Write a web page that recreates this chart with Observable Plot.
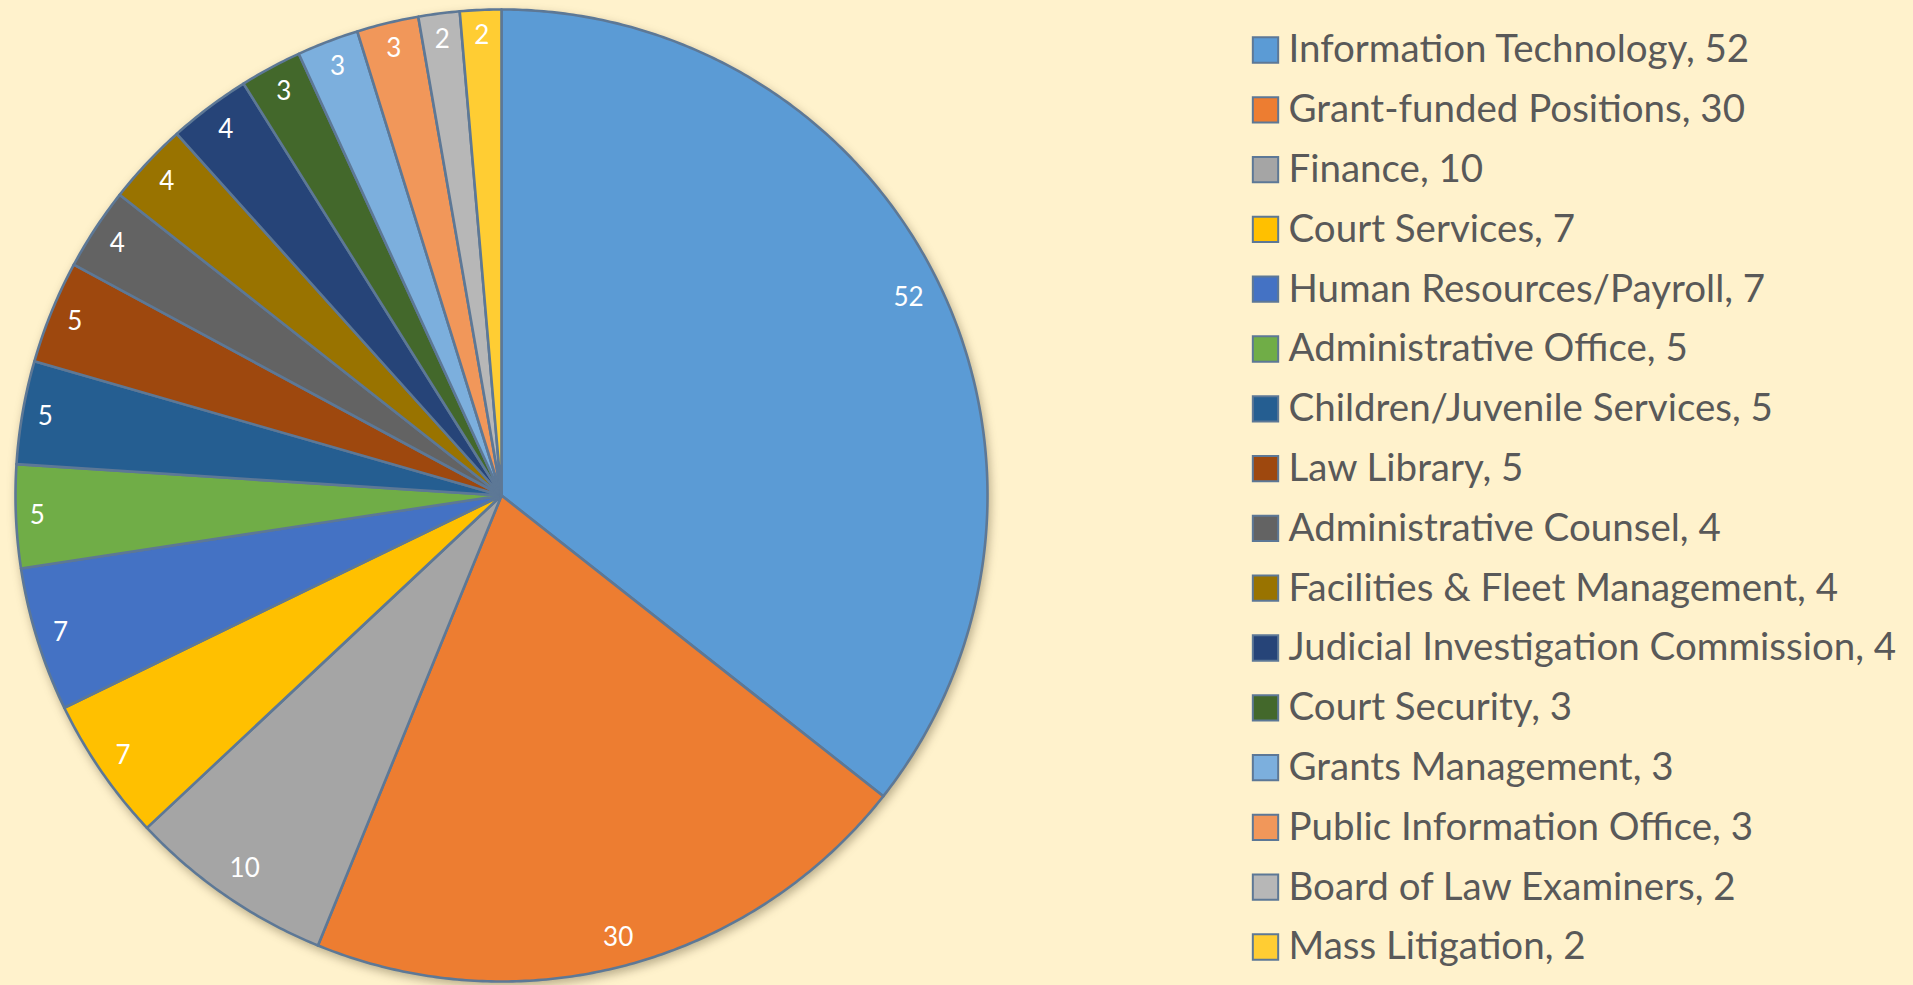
<!DOCTYPE html>
<html>
<head>
<meta charset="utf-8">
<script src="https://cdn.jsdelivr.net/npm/d3@7"></script>
<script src="https://cdn.jsdelivr.net/npm/@observablehq/plot@0.6"></script>
<style>
  html, body { margin: 0; padding: 0; background: #FFF2CC; }
  #wrap { position: relative; width: 1913px; height: 985px; overflow: hidden; background: #FFF2CC; }
  #pie { position: absolute; left: 0; top: 0; }
  #legend { position: absolute; left: 1000px; top: 0; }
</style>
</head>
<body>
<div id="wrap"><div id="pie"></div><div id="legend"></div></div>
<script>
const categories = [
  "Information Technology",
  "Grant-funded Positions",
  "Finance",
  "Court Services",
  "Human Resources/Payroll",
  "Administrative Office",
  "Children/Juvenile Services",
  "Law Library",
  "Administrative Counsel",
  "Facilities & Fleet Management",
  "Judicial Investigation Commission",
  "Court Security",
  "Grants Management",
  "Public Information Office",
  "Board of Law Examiners",
  "Mass Litigation"
];
const values = [52, 30, 10, 7, 7, 5, 5, 5, 4, 4, 4, 3, 3, 3, 2, 2];
const colors = [
  "#5B9BD5", "#ED7D31", "#A5A5A5", "#FFC000", "#4472C4", "#70AD47",
  "#255E91", "#9E480E", "#636363", "#997300", "#264478", "#43682B",
  "#7CAFDD", "#F1975A", "#B7B7B7", "#FFCD33"
];

const FONT = "Lato, 'Open Sans', sans-serif";
const EDGE = "#5d7896";
const R = 486;           // pie radius in px (for label fitting)
const labelSize = 26;

// Build slice outlines (unit circle coordinates, clockwise from 12 o'clock)
const total = d3.sum(values);
const pieRows = [];
const labelRows = [];
let acc = 0;
categories.forEach((cat, i) => {
  const a0 = acc / total * 2 * Math.PI;
  acc += values[i];
  const a1 = acc / total * 2 * Math.PI;
  const n = Math.max(4, Math.ceil((a1 - a0) / (Math.PI / 360)));
  pieRows.push({cat, x: 0, y: 0});
  for (let k = 0; k <= n; k++) {
    const a = a0 + (a1 - a0) * k / n;
    pieRows.push({cat, x: Math.sin(a), y: Math.cos(a)});
  }
  pieRows.push({cat, x: 0, y: 0});
  // inside-end label placement
  const am = (a0 + a1) / 2;
  const txt = String(values[i]);
  const halfW = txt.length * labelSize * 0.34;
  const halfH = labelSize * 0.5;
  const inset = 12 + Math.abs(Math.sin(am)) * halfW + Math.abs(Math.cos(am)) * halfH;
  const d = (R - inset) / R;
  labelRows.push({cat, x: d * Math.sin(am), y: d * Math.cos(am), text: txt});
});

const cx = 501, cy = 495;
const pie = Plot.plot({
  width: 1000,
  height: 985,
  margin: 0,
  style: {background: "transparent", fontFamily: FONT},
  x: {domain: [-1, 1], range: [cx - R, cx + R], axis: null},
  y: {domain: [-1, 1], range: [cy + R, cy - R], axis: null},
  color: {domain: categories, range: colors},
  marks: [
    Plot.line(pieRows, {
      x: "x", y: "y", z: "cat", fill: "cat",
      stroke: EDGE, strokeWidth: 2.6, strokeLinejoin: "round", curve: "linear"
    }),
    Plot.text(labelRows, {
      x: "x", y: "y", text: "text", fill: "#ffffff", fontSize: labelSize
    })
  ]
});
d3.select(pie).selectAll('g[aria-label="line"]')
  .style("filter", "drop-shadow(2px 4px 5px rgba(60,50,20,0.35))");
document.getElementById("pie").appendChild(pie);

const legendRows = categories.map((cat, i) => ({cat, idx: i, label: `${cat}, ${values[i]}`}));
const legend = Plot.plot({
  width: 913,
  height: 985,
  marginLeft: 265,
  marginRight: 0,
  marginTop: 0,
  marginBottom: 0,
  style: {background: "transparent", fontFamily: FONT},
  y: {domain: [0, categories.length - 1], range: [49.5, 946.5], axis: null},
  color: {domain: categories, range: colors},
  marks: [
    Plot.dot(legendRows, {
      y: "idx", fill: "cat", symbol: "square", r: 14.3,
      stroke: EDGE, strokeWidth: 2, frameAnchor: "left"
    }),
    Plot.text(legendRows, {
      y: "idx", text: "label",
      frameAnchor: "left", textAnchor: "start", dx: 23,
      fill: "#595959", fontSize: 38.5
    })
  ]
});
document.getElementById("legend").appendChild(legend);
</script>
</body>
</html>
